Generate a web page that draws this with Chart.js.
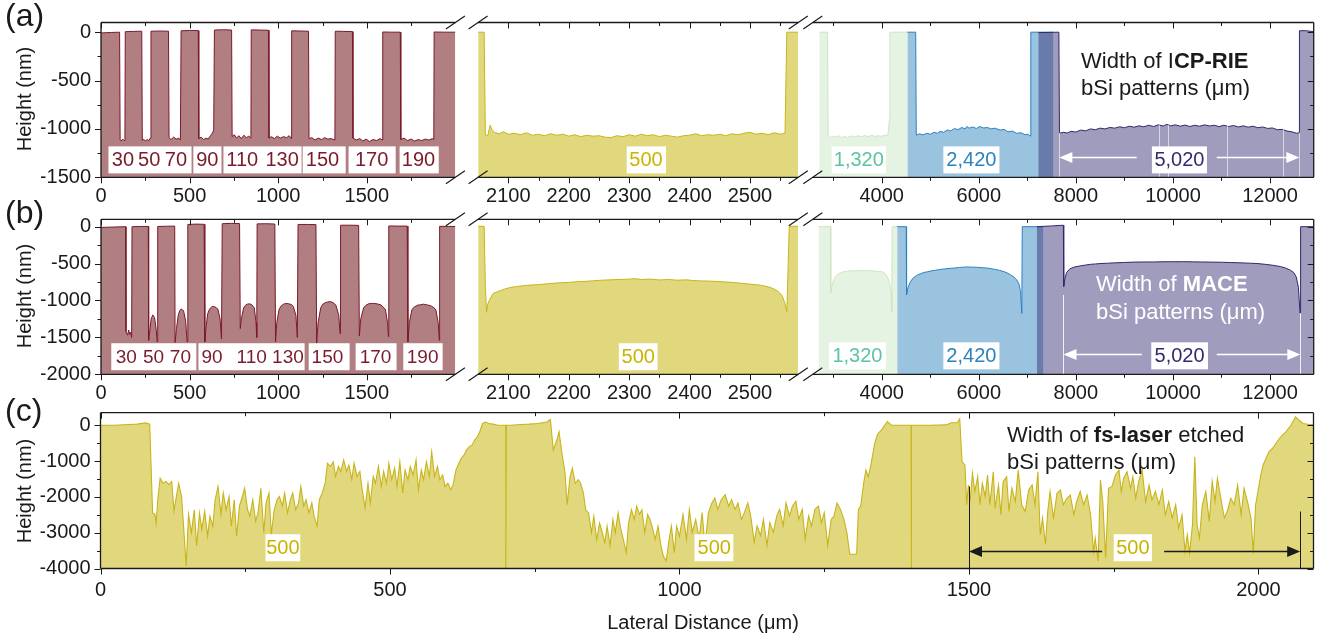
<!DOCTYPE html>
<html>
<head>
<meta charset="utf-8">
<script src="https://cdn.jsdelivr.net/npm/chart.js@4.4.0/dist/chart.umd.min.js"></script>
<style>
  body { margin: 0; background: #fff; }
  #wrap { position: relative; width: 1326px; height: 636px; overflow: hidden;
          font-family: "Liberation Sans", Arial, sans-serif; color: #1a1a1a; }
  canvas { position: absolute; left: 0; top: 0; }
  .t { position: absolute; white-space: nowrap; }
  .ylab { font-size: 20px; transform: translate(-50%, -50%) rotate(-90deg); }
  .note { font-size: 22px; line-height: 27px; }
</style>
</head>
<body>
<div id="wrap">
  <canvas id="a1" width="1326" height="636"></canvas>
  <canvas id="a2" width="1326" height="636"></canvas>
  <canvas id="a3" width="1326" height="636"></canvas>
  <canvas id="b1" width="1326" height="636"></canvas>
  <canvas id="b2" width="1326" height="636"></canvas>
  <canvas id="b3" width="1326" height="636"></canvas>
  <canvas id="c1" width="1326" height="636"></canvas>

  <div class="t" style="left:5px;top:-3px;font-size:32px">(a)</div>
  <div class="t" style="left:5px;top:194px;font-size:32px">(b)</div>
  <div class="t" style="left:5px;top:392px;font-size:32px">(c)</div>
  <div class="t ylab" style="left:24px;top:99px">Height (nm)</div>
  <div class="t ylab" style="left:24px;top:296px">Height (nm)</div>
  <div class="t ylab" style="left:24px;top:491px">Height (nm)</div>
  <div class="t" style="left:703px;top:622px;font-size:20px;transform:translate(-50%,-50%)">Lateral Distance (μm)</div>

  <div class="t note" style="left:1081px;top:47px">Width of I<b>CP-RIE</b><br>bSi patterns (μm)</div>
  <div class="t note" style="left:1096px;top:270px;color:#fff;line-height:28px">Width of <b>MACE</b><br>bSi patterns (μm)</div>
  <div class="t note" style="left:1007px;top:421px">Width of <b>fs-laser</b> etched<br>bSi patterns (μm)</div>
</div>
<script>
// ---- tick labels ----
const xTicksP1 = [0, 500, 1000, 1500];
const xTicksP2 = [2100, 2200, 2300, 2400, 2500];
const xTicksP3 = [4000, 6000, 8000, 10000, 12000];
const xTicksC = [0, 500, 1000, 1500, 2000];
const yTicksA = [0, -500, -1000, -1500];
const yTicksB = [0, -500, -1000, -1500, -2000];
const yTicksC = [0, -1000, -2000, -3000, -4000];

// ---- (a) ICP-RIE profiles [lateral µm, height nm] ----
const icpNarrow = [[0,-8],[60,-3],[105,0],[108,-1110],[114,-1125],[122,-1105],[130,-1120],[135,-1100],[137,5],[185,8],[230,10],
  [233,-1120],[240,-1105],[250,-1125],[260,-1110],[270,-1120],[278,-1095],[282,10],[330,12],[381,10],
  [384,-1090],[395,-1110],[410,-1085],[425,-1105],[438,-1095],[448,-1115],[452,14],[500,18],[549,16],
  [552,-1100],[565,-1085],[580,-1110],[592,-1095],[605,-1105],[618,-1070],[628,-1045],[636,-1010],[640,22],[690,25],[737,22],
  [740,-1080],[752,-1060],[765,-1095],[778,-1070],[792,-1100],[806,-1065],[820,-1090],[834,-1075],[846,-1095],[848,24],[895,22],[945,20],
  [948,-1095],[962,-1080],[978,-1100],[995,-1075],[1012,-1095],[1030,-1080],[1048,-1090],[1062,-1070],[1074,-1100],[1076,14],[1125,12],[1171,10],
  [1174,-1100],[1190,-1090],[1208,-1115],[1225,-1095],[1245,-1110],[1262,-1090],[1280,-1105],[1300,-1100],[1320,-1115],[1322,10],[1370,8],[1419,6],
  [1422,-1095],[1440,-1115],[1460,-1100],[1478,-1125],[1496,-1105],[1515,-1130],[1535,-1110],[1555,-1120],[1575,-1100],[1588,-1115],[1590,2],[1640,0],[1689,0],
  [1692,-1110],[1710,-1095],[1730,-1120],[1750,-1105],[1770,-1125],[1790,-1110],[1810,-1120],[1830,-1105],[1850,-1115],[1870,-1100],[1878,-1110],[1880,2],[1940,0],[2000,0]];
const icp500 = [[2050,0],[2060,0],[2062,-1060],[2066,-1070],[2070,-960],[2073,-1010],[2078,-1040],[2085,-1050],[2092,-1030],[2100,-1055],
  [2110,-1045],[2120,-1060],[2130,-1040],[2140,-1065],[2150,-1055],[2160,-1070],[2170,-1050],[2180,-1065],[2190,-1055],[2200,-1075],
  [2210,-1060],[2220,-1080],[2230,-1065],[2240,-1075],[2250,-1070],[2260,-1085],[2270,-1090],[2280,-1070],[2290,-1080],[2300,-1060],
  [2310,-1075],[2320,-1055],[2330,-1070],[2340,-1060],[2350,-1080],[2360,-1065],[2370,-1075],[2380,-1085],[2390,-1070],[2400,-1065],
  [2410,-1050],[2420,-1070],[2430,-1060],[2440,-1065],[2450,-1055],[2460,-1070],[2470,-1050],[2480,-1060],[2490,-1045],[2500,-1035],
  [2510,-1055],[2520,-1045],[2530,-1060],[2540,-1040],[2550,-1055],[2558,-1045],[2561,0],[2580,0]];
const icp1320 = [[2713,0],[2885,0],[2895,-1070],[2940,-1090],[2990,-1075],[3050,-1085],[3110,-1070],[3170,-1090],[3230,-1078],[3300,-1088],
  [3370,-1072],[3440,-1084],[3510,-1070],[3580,-1082],[3650,-1068],[3720,-1080],[3790,-1066],[3860,-1078],[3930,-1070],[4000,-1076],
  [4070,-1064],[4125,-1072],[4140,-1000],[4160,-900],[4168,0],[4528,0]];
const icp2420 = [[4528,0],[4700,0],[4712,-1065],[4780,-1050],[4850,-1062],[4928,-1045],[5000,-1055],[5080,-1035],[5150,-1045],[5202,-1025],
  [5280,-1035],[5350,-1010],[5420,-1022],[5500,-995],[5570,-1008],[5650,-985],[5720,-1000],[5753,-975],[5800,-992],[5870,-980],
  [5950,-995],[6020,-975],[6100,-990],[6180,-985],[6250,-1000],[6330,-992],[6439,-1012],[6520,-1005],[6600,-1030],[6690,-1022],
  [6782,-1045],[6870,-1040],[6950,-1060],[7020,-1055],[7060,-1075],[7072,0],[7536,0]];
const icp5020 = [[7226,-5],[7650,0],[7662,-1045],[7740,-1035],[7820,-1042],[7900,-1025],[8000,-1032],[8100,-1012],[8200,-1020],[8300,-1000],
  [8400,-1008],[8500,-992],[8600,-1000],[8700,-985],[8800,-992],[8900,-978],[9000,-988],[9100,-972],[9200,-982],[9300,-968],
  [9400,-978],[9500,-962],[9600,-975],[9700,-958],[9800,-970],[9873,-952],[9950,-968],[10050,-958],[10150,-972],[10250,-960],
  [10350,-975],[10450,-962],[10550,-972],[10650,-958],[10750,-970],[10850,-962],[10950,-976],[11050,-962],[11150,-975],[11250,-965],
  [11350,-980],[11450,-968],[11550,-982],[11650,-972],[11750,-988],[11850,-980],[11950,-995],[12050,-990],[12150,-1008],[12250,-1005],
  [12350,-1022],[12450,-1030],[12550,-1045],[12598,-1040],[12606,15],[12750,15],[12900,5]];

// ---- (b) MACE profiles ----
const maceNarrow = [[0,-10],[70,-5],[139,0],
  [141,-1420],[150,-1470],[156,-1400],[162,-1460],[168,-1430],[173,-1500],[175,0],[222,3],[267,3],
  [269,-1540],[276,-1400],[283,-1250],[292,-1195],[302,-1230],[311,-1380],[317,-1560],[320,3],[370,6],[416,8],
  [418,-1570],[426,-1380],[436,-1200],[444,-1140],[452,-1115],[460,-1125],[466,-1140],[478,-1280],[486,-1560],[490,30],[537,35],[582,32],
  [586,-1560],[592,-1380],[602,-1180],[612,-1120],[620,-1095],[630,-1080],[640,-1085],[650,-1095],[660,-1120],[672,-1250],[680,-1520],[684,40],[735,45],[782,42],
  [786,-1380],[792,-1250],[805,-1100],[815,-1065],[825,-1050],[838,-1045],[850,-1055],[865,-1100],[875,-1300],[879,-1500],[881,38],[930,40],[981,36],
  [985,-1560],[992,-1300],[1005,-1120],[1018,-1070],[1030,-1050],[1045,-1040],[1060,-1045],[1075,-1055],[1085,-1080],[1100,-1200],[1108,-1500],[1112,30],[1165,30],[1213,28],
  [1217,-1580],[1225,-1300],[1240,-1100],[1252,-1050],[1265,-1030],[1280,-1020],[1295,-1015],[1310,-1030],[1325,-1060],[1342,-1200],[1349,-1450],[1352,20],[1405,20],[1454,18],
  [1458,-1480],[1466,-1250],[1482,-1100],[1495,-1065],[1510,-1045],[1528,-1040],[1545,-1040],[1562,-1048],[1580,-1060],[1605,-1120],[1617,-1300],[1622,-1490],[1624,10],[1680,8],[1728,8],
  [1732,-1560],[1740,-1300],[1755,-1120],[1770,-1085],[1785,-1065],[1802,-1058],[1820,-1050],[1840,-1060],[1860,-1070],[1878,-1095],[1890,-1130],[1903,-1300],[1909,-1540],[1911,5],[1960,3],[2000,3]];
const mace500 = [[2050,5],[2060,5],[2062,-800],[2064,-1160],[2066,-1050],[2069,-990],[2075,-905],[2082,-880],[2089,-860],[2096,-840],
  [2103,-825],[2115,-810],[2130,-795],[2150,-785],[2170,-770],[2186,-760],[2200,-755],[2215,-745],[2230,-740],[2241,-732],
  [2255,-725],[2270,-720],[2285,-715],[2296,-712],[2310,-705],[2320,-715],[2335,-710],[2351,-722],[2365,-715],[2380,-725],
  [2395,-720],[2406,-730],[2420,-735],[2435,-738],[2450,-745],[2462,-750],[2475,-758],[2490,-770],[2505,-782],[2517,-792],
  [2530,-815],[2539,-840],[2547,-880],[2553,-930],[2558,-1040],[2561,-1150],[2563,-600],[2565,5],[2580,5]];
const mace1320 = [[2700,0],[2945,0],[2950,-900],[2975,-800],[3010,-720],[3060,-665],[3120,-635],[3200,-615],[3270,-605],[3350,-598],
  [3450,-600],[3550,-592],[3650,-598],[3750,-594],[3850,-602],[3950,-606],[4030,-615],[4080,-640],[4130,-700],[4170,-790],
  [4195,-900],[4206,-1150],[4215,0],[4318,0]];
const mace2420 = [[4318,0],[4505,0],[4512,-925],[4540,-830],[4580,-760],[4640,-700],[4720,-660],[4790,-640],[4870,-620],[4950,-610],
  [5030,-598],[5110,-590],[5200,-580],[5300,-572],[5408,-565],[5500,-560],[5600,-552],[5700,-548],[5753,-545],[5850,-548],
  [5950,-550],[6050,-555],[6165,-560],[6260,-570],[6350,-580],[6430,-592],[6500,-605],[6580,-625],[6650,-650],[6720,-680],
  [6782,-720],[6830,-780],[6860,-880],[6886,-1175],[6895,0],[7330,0]];
const mace5020 = [[7196,0],[7500,10],[7742,20],[7750,-810],[7775,-700],[7810,-620],[7878,-570],[7980,-545],[8100,-530],[8200,-520],
  [8300,-510],[8400,-505],[8496,-500],[8650,-495],[8800,-490],[9000,-485],[9183,-480],[9400,-478],[9600,-478],[9800,-475],
  [10000,-475],[10200,-474],[10400,-476],[10563,-478],[10800,-480],[11000,-482],[11200,-486],[11400,-490],[11594,-495],[11750,-500],
  [11900,-510],[12050,-522],[12212,-540],[12320,-560],[12420,-590],[12487,-620],[12540,-680],[12585,-820],[12618,-1175],[12630,0],[12900,0]];

// ---- (c) fs-laser profile ----
const laserProfile = [[0,0],[25,0],[48,20],[63,30],[78,65],[85,30],[90,-2450],[94,-2490],[96,-2740],[99,-2080],[103,-1480],[108,-1620],
  [113,-1570],[118,-1660],[123,-1570],[127,-2400],[131,-1990],[135,-1620],[140,-1990],[145,-3190],[148,-3930],[152,-2490],[157,-3000],
  [162,-2360],[166,-3370],[171,-2450],[175,-2910],[180,-2400],[185,-3100],[189,-2540],[194,-2820],[198,-2080],[203,-1710],[208,-2490],
  [212,-1890],[217,-2360],[222,-1990],[226,-2820],[231,-2080],[235,-3100],[240,-2260],[245,-1990],[249,-1760],[254,-2360],[258,-2540],
  [263,-2080],[268,-2680],[272,-2450],[277,-1760],[282,-3000],[286,-2170],[291,-1890],[295,-3050],[300,-2360],[305,-2080],[309,-1990],
  [314,-2260],[318,-1890],[323,-2450],[328,-2080],[332,-1890],[337,-2360],[342,-2170],[346,-1710],[351,-2260],[355,-2080],[360,-2450],
  [365,-2170],[369,-2540],[374,-2820],[378,-2080],[383,-1890],[388,-1620],[392,-1060],[397,-1150],[402,-1020],[406,-1430],[411,-1150],
  [415,-1290],[420,-970],[425,-1290],[429,-1110],[434,-1520],[438,-1060],[443,-1430],[448,-1290],[452,-1800],[457,-2310],[462,-1620],
  [466,-2170],[471,-1430],[475,-1620],[480,-1150],[485,-1710],[489,-1290],[494,-1620],[498,-1060],[503,-1520],[508,-1200],[512,-1710],
  [517,-1020],[522,-1890],[526,-1250],[531,-1520],[535,-1150],[540,-1390],[545,-970],[549,-1800],[554,-1250],[558,-1520],[563,-1020],
  [568,-1430],[572,-740],[577,-1430],[582,-1150],[586,-1520],[591,-1390],[595,-1710],[600,-1620],[605,-1800],[609,-1660],[614,-1250],
  [619,-1060],[623,-920],[628,-830],[632,-690],[637,-600],[642,-550],[646,-420],[651,-320],[655,-180],[660,50],[665,90],[671,50],
  [678,30],[686,0],[700,0],[700,-4000],[701,0],[709,0],[725,20],[740,30],[755,50],[771,90],[777,160],[782,-690],[788,-420],[792,-180],
  [797,-790],[802,-1290],[806,-2220],[811,-1430],[815,-1200],[820,-1620],[825,-1520],[829,-1620],[834,-1890],[838,-2360],[843,-2450],
  [848,-3000],[852,-2540],[857,-3190],[862,-2730],[866,-2960],[871,-3280],[875,-2820],[880,-3370],[885,-2630],[889,-3000],[894,-2450],
  [898,-2860],[903,-3190],[908,-3560],[912,-2730],[917,-2360],[922,-2630],[926,-2260],[931,-2490],[935,-2360],[940,-3000],[945,-2490],
  [949,-2630],[954,-2910],[958,-3190],[963,-2820],[968,-3370],[972,-3650],[977,-3790],[982,-3190],[986,-2820],[991,-3560],[995,-2820],
  [1000,-3100],[1006,-2490],[1012,-3180],[1017,-2350],[1022,-2990],[1028,-2630],[1034,-3180],[1039,-2440],[1044,-3360],[1050,-2440],
  [1056,-2170],[1061,-2030],[1066,-2350],[1072,-2080],[1079,-1940],[1085,-2260],[1090,-2080],[1096,-2350],[1101,-2170],[1107,-2630],
  [1112,-2440],[1118,-2170],[1123,-2530],[1129,-3270],[1134,-2810],[1140,-3080],[1145,-2630],[1151,-3360],[1156,-2720],[1162,-2990],
  [1168,-2530],[1173,-2350],[1179,-2810],[1184,-2170],[1190,-2530],[1195,-2260],[1201,-2120],[1206,-2630],[1212,-2350],[1217,-3180],
  [1223,-2530],[1228,-2810],[1234,-2350],[1240,-2260],[1245,-2720],[1250,-2440],[1256,-3360],[1262,-2630],[1267,-2530],[1272,-2170],
  [1278,-2350],[1284,-2630],[1289,-2990],[1294,-3590],[1300,-3610],[1306,-3590],[1309,-2350],[1313,-2260],[1318,-1620],[1322,-1250],
  [1326,-1440],[1331,-1070],[1337,-520],[1342,-250],[1350,-110],[1359,100],[1366,0],[1400,0],[1400,-4000],[1401,0],[1432,0],[1461,10],
  [1469,70],[1480,70],[1484,180],[1488,-1020],[1493,-1110],[1496,-2220],[1499,-1670],[1502,-2130],[1506,-1340],[1510,-1850],[1515,-1440],
  [1519,-2220],[1523,-1620],[1528,-1990],[1532,-1390],[1536,-2220],[1542,-1300],[1545,-2320],[1551,-1670],[1555,-2500],[1559,-1570],
  [1565,-1440],[1569,-2410],[1574,-1760],[1580,-2130],[1585,-1250],[1591,-2220],[1597,-2410],[1603,-1810],[1609,-1670],[1614,-2220],
  [1619,-1300],[1623,-3060],[1627,-2590],[1632,-3330],[1636,-2410],[1640,-1850],[1646,-2590],[1652,-1900],[1658,-1810],[1663,-2220],
  [1669,-2040],[1675,-1950],[1681,-2500],[1686,-2130],[1692,-1850],[1698,-2220],[1704,-1950],[1710,-2500],[1715,-3520],[1718,-3150],
  [1723,-3800],[1727,-1530],[1731,-2130],[1736,-3700],[1741,-1760],[1747,-1710],[1753,-1390],[1759,-1250],[1763,-1850],[1767,-1480],
  [1773,-1300],[1779,-1760],[1783,-1440],[1788,-2040],[1793,-1570],[1799,-1250],[1805,-2130],[1811,-1670],[1816,-2080],[1822,-1850],
  [1828,-2220],[1834,-1810],[1839,-2500],[1845,-2130],[1851,-2590],[1857,-2220],[1862,-2870],[1868,-2500],[1873,-3520],[1877,-3060],
  [1881,-3570],[1886,-2780],[1890,-880],[1894,-2780],[1898,-3150],[1903,-2220],[1909,-1850],[1915,-2690],[1920,-1570],[1925,-2130],
  [1929,-1480],[1935,-2040],[1941,-2590],[1946,-2410],[1952,-2040],[1958,-2220],[1964,-1670],[1970,-2500],[1975,-1760],[1981,-2130],
  [1987,-2590],[1991,-3570],[1995,-2220],[2000,-1760],[2004,-1390],[2008,-1110],[2013,-930],[2018,-740],[2024,-650],[2030,-510],
  [2036,-370],[2041,-280],[2047,-190],[2056,0],[2064,230],[2070,140],[2077,50],[2088,20],[2095,20]];

// ---- width labels (text, centre on the lateral axis) ----
const narrowWidths = ['30', '50', '70', '90', '110', '130', '150', '170', '190'];
const icpWidthX = [124, 272, 423, 600, 797, 1022, 1250, 1527, 1792];
const maceWidthX = [143, 296, 448, 627, 850, 1055, 1278, 1549, 1815];
const icpWidthBoxes = [[42, 511], [521, 680], [691, 1132], [1138, 1381], [1397, 1663], [1685, 1906]];
const maceWidthBoxes = [[58, 538], [550, 1149], [1172, 1403], [1437, 1668], [1706, 1928]];
const wideWidths = ['1,320', '2,420', '5,020'];
const icpWideX = [3528, 5847, 10134];
const maceWideX = [3500, 5847, 10137];
const icpWideBoxes = [[2969, 4087], [5270, 6425], [9567, 10701]];
const maceWideBoxes = [[2913, 4087], [5270, 6425], [9553, 10722]];
const laserWidthX = [315, 1060, 1783];
const laserWidthBoxes = [[285, 345], [1026, 1093], [1750, 1816]];
// dimension arrows: [from, to, height, gap start, gap end]
const icpArrow = [7660, 12604, -1287, 9253, 10902];
const maceArrow = [7745, 12625, -1725, 9356, 10902];
const laserArrow = [1500, 2072, -3500, 1730, 1837];
// guide lines: [x, top height]
const icpGuides = [[7660, -1040], [9716, -960], [9900, -960], [11120, -960], [12274, -1000], [12604, -1040]];
const maceGuides = [[7745, -925], [12625, -1170]];
const laserGuides = [[1500, -1710], [2072, -2410]];

const W = 1326, H = 636;
const FONT = '"Liberation Sans", Arial, sans-serif';
const INK = '#1a1a1a';
const MAROON = '#7a1a2a', YELLOW = '#c9b400', GREEN = '#5cc4a0', BLUE = '#2a82c0', PURPLE = '#35296e';

const rowA = { top: 22.5, bottom: 177.3, y: [-1500, 100], ticks: yTicksA, major: 500, minor: 250 };
const rowB = { top: 219.3, bottom: 374.3, y: [-2000, 100], ticks: yTicksB, major: 500, minor: 250 };
const rowC = { top: 412.7, bottom: 568.5, y: [-4000, 350], ticks: yTicksC, major: 1000, minor: 500 };
const colP1 = { left: 101, right: 455.4, x: [0, 2000], ticks: xTicksP1, major: 500, minor: 250 };
const colP2 = { left: 478.1, right: 798.3, x: [2050, 2580], ticks: xTicksP2, major: 100, minor: 50 };
const colP3 = { left: 812.8, right: 1313.7, x: [2580, 12900], ticks: xTicksP3, major: 2000, minor: 1000 };
const colC = { left: 100.5, right: 1313.5, x: [0, 2095], ticks: xTicksC, major: 500, minor: 250 };

function series(points, line, fill) {
  return {
    data: points.map(([x, y]) => ({ x, y })),
    borderColor: line, backgroundColor: fill, borderWidth: 1,
    pointRadius: 0, tension: 0, fill: 'start'
  };
}

function textBox(ctx, xs, ys, x0, x1, yv, h) {
  const p0 = xs.getPixelForValue(x0), p1 = xs.getPixelForValue(x1);
  const py = ys.getPixelForValue(yv);
  ctx.fillStyle = '#fff';
  ctx.fillRect(p0, py - h / 2, p1 - p0, h);
}

function labels(ctx, xs, ys, texts, xsv, yv, color, size) {
  ctx.fillStyle = color;
  ctx.font = size + 'px ' + FONT;
  ctx.textAlign = 'center';
  ctx.textBaseline = 'middle';
  texts.forEach((t, i) => ctx.fillText(t, xs.getPixelForValue(xsv[i]), ys.getPixelForValue(yv) + 1));
}

function guides(ctx, xs, ys, list, color) {
  ctx.strokeStyle = color;
  ctx.lineWidth = 1;
  ctx.beginPath();
  list.forEach(([x, top]) => {
    const px = Math.round(xs.getPixelForValue(x)) + 0.5;
    ctx.moveTo(px, ys.getPixelForValue(top));
    ctx.lineTo(px, ys.bottom);
  });
  ctx.stroke();
}

function arrow(ctx, xs, ys, a, color) {
  const [x0, x1, yv, g0, g1] = a;
  const p0 = xs.getPixelForValue(x0), p1 = xs.getPixelForValue(x1);
  const q0 = xs.getPixelForValue(g0), q1 = xs.getPixelForValue(g1);
  const py = Math.round(ys.getPixelForValue(yv)) + 0.5;
  ctx.strokeStyle = color;
  ctx.fillStyle = color;
  ctx.lineWidth = 1.5;
  ctx.beginPath();
  ctx.moveTo(p0 + 10, py); ctx.lineTo(q0, py);
  ctx.moveTo(q1, py); ctx.lineTo(p1 - 10, py);
  ctx.stroke();
  ctx.beginPath();
  ctx.moveTo(p0, py); ctx.lineTo(p0 + 13, py - 5.5); ctx.lineTo(p0 + 13, py + 5.5); ctx.closePath();
  ctx.moveTo(p1, py); ctx.lineTo(p1 - 13, py - 5.5); ctx.lineTo(p1 - 13, py + 5.5); ctx.closePath();
  ctx.fill();
}

function decor(row, col, o) {
  return {
    id: 'decor',
    afterDatasetsDraw(chart) {
      const { ctx, chartArea: a } = chart;
      const xs = chart.scales.x, ys = chart.scales.y;
      ctx.save();
      if (o.extra) o.extra(ctx, xs, ys);

      ctx.strokeStyle = INK;
      ctx.lineWidth = 1.3;
      ctx.beginPath();
      ctx.moveTo(a.left, a.top); ctx.lineTo(a.right, a.top);
      ctx.moveTo(a.left, a.bottom); ctx.lineTo(a.right, a.bottom);
      if (o.left) { ctx.moveTo(a.left, a.top); ctx.lineTo(a.left, a.bottom); }
      if (o.right) { ctx.moveTo(a.right, a.top); ctx.lineTo(a.right, a.bottom); }
      ctx.stroke();

      ctx.lineWidth = 1;
      ctx.beginPath();
      for (let v = Math.ceil(col.x[0] / col.minor) * col.minor; v < col.x[1]; v += col.minor) {
        if (v === col.x[0] && !o.left) continue;
        const px = Math.round(xs.getPixelForValue(v)) + 0.5;
        const len = v % col.major === 0 ? 6 : 3.5;
        ctx.moveTo(px, a.bottom); ctx.lineTo(px, a.bottom + len);
        ctx.moveTo(px, a.top); ctx.lineTo(px, a.top + len);
      }
      for (let v = row.y[0]; v <= 0; v += row.minor) {
        const py = Math.round(ys.getPixelForValue(v)) + 0.5;
        const len = v % row.major === 0 ? 6 : 3.5;
        if (o.left) { ctx.moveTo(a.left, py); ctx.lineTo(a.left - len, py); }
        if (o.right) { ctx.moveTo(a.right, py); ctx.lineTo(a.right - len, py); }
      }
      ctx.stroke();

      ctx.lineWidth = 1.2;
      ctx.beginPath();
      const brk = x => [a.top, a.bottom].forEach(y => { ctx.moveTo(x - 9.5, y + 6.5); ctx.lineTo(x + 9.5, y - 6.5); });
      if (o.breakL) brk(a.left);
      if (o.breakR) brk(a.right);
      ctx.stroke();
      ctx.restore();
    }
  };
}

function panel(id, row, col, datasets, o) {
  const yW = o.yLabels ? 60 : 0;
  const xH = 30;
  return new Chart(document.getElementById(id), {
    type: 'line',
    data: { datasets },
    options: {
      responsive: false,
      animation: false,
      devicePixelRatio: 1,
      layout: { padding: { left: col.left - yW, top: row.top, right: W - col.right, bottom: H - row.bottom - xH } },
      plugins: { legend: { display: false }, tooltip: { enabled: false } },
      scales: {
        x: {
          type: 'linear', min: col.x[0], max: col.x[1],
          grid: { display: false, drawTicks: false }, border: { display: false },
          afterBuildTicks: s => { s.ticks = col.ticks.map(v => ({ value: v })); },
          afterFit: s => { s.height = xH; },
          ticks: { padding: o.xPad, color: INK, font: { family: FONT, size: 20 }, maxRotation: 0, autoSkip: false, callback: v => String(v) }
        },
        y: {
          type: 'linear', min: row.y[0], max: row.y[1],
          grid: { display: false, drawTicks: false }, border: { display: false },
          afterBuildTicks: s => { s.ticks = row.ticks.map(v => ({ value: v })); },
          afterFit: s => { s.width = yW; },
          ticks: { display: !!o.yLabels, padding: 10, color: INK, font: { family: FONT, size: 20 }, callback: v => String(v) }
        }
      }
    },
    plugins: [decor(row, col, o)]
  });
}

const maroonLine = MAROON, maroonFill = 'rgba(125,40,45,0.6)';
const yellowLine = '#c8b41a', yellowFill = 'rgba(205,190,40,0.6)';
const greenLine = '#cde4c2', greenFill = 'rgba(150,210,140,0.25)';
const blueLine = '#2a82c0', blueFill = 'rgba(53,135,191,0.5)';
const purpleLine = '#33286a', purpleFill = 'rgba(44,35,109,0.45)';

// row (a)
panel('a1', rowA, colP1, [series(icpNarrow, maroonLine, maroonFill)], {
  yLabels: true, left: true, breakR: true, xPad: 7,
  extra: (ctx, xs, ys) => {
    icpWidthBoxes.forEach(([x0, x1]) => textBox(ctx, xs, ys, x0, x1, -1320, 27));
    labels(ctx, xs, ys, narrowWidths, icpWidthX, -1320, MAROON, 20);
  }
});
panel('a2', rowA, colP2, [series(icp500, yellowLine, yellowFill)], {
  breakL: true, breakR: true, xPad: 7,
  extra: (ctx, xs, ys) => {
    textBox(ctx, xs, ys, 2296, 2361, -1320, 27);
    labels(ctx, xs, ys, ['500'], [2328], -1320, YELLOW, 20);
  }
});
panel('a3', rowA, colP3, [
  series(icp5020, purpleLine, purpleFill),
  series(icp2420, blueLine, blueFill),
  series(icp1320, greenLine, greenFill)
], {
  right: true, breakL: true, xPad: 7,
  extra: (ctx, xs, ys) => {
    guides(ctx, xs, ys, icpGuides, 'rgba(255,255,255,0.6)');
    arrow(ctx, xs, ys, icpArrow, '#fff');
    icpWideBoxes.forEach(([x0, x1]) => textBox(ctx, xs, ys, x0, x1, -1320, 27));
    [GREEN, BLUE, PURPLE].forEach((c, i) => labels(ctx, xs, ys, [wideWidths[i]], [icpWideX[i]], -1320, c, 20));
  }
});

// row (b)
panel('b1', rowB, colP1, [series(maceNarrow, maroonLine, maroonFill)], {
  yLabels: true, left: true, breakR: true, xPad: 7,
  extra: (ctx, xs, ys) => {
    maceWidthBoxes.forEach(([x0, x1]) => textBox(ctx, xs, ys, x0, x1, -1762, 27));
    labels(ctx, xs, ys, narrowWidths, maceWidthX, -1762, MAROON, 19);
  }
});
panel('b2', rowB, colP2, [series(mace500, yellowLine, yellowFill)], {
  breakL: true, breakR: true, xPad: 7,
  extra: (ctx, xs, ys) => {
    textBox(ctx, xs, ys, 2283, 2347, -1762, 27);
    labels(ctx, xs, ys, ['500'], [2315], -1762, YELLOW, 20);
  }
});
panel('b3', rowB, colP3, [
  series(mace5020, purpleLine, purpleFill),
  series(mace2420, blueLine, blueFill),
  series(mace1320, greenLine, greenFill)
], {
  right: true, breakL: true, xPad: 7,
  extra: (ctx, xs, ys) => {
    guides(ctx, xs, ys, maceGuides, 'rgba(255,255,255,0.85)');
    arrow(ctx, xs, ys, maceArrow, '#fff');
    maceWideBoxes.forEach(([x0, x1]) => textBox(ctx, xs, ys, x0, x1, -1750, 27));
    [GREEN, BLUE, PURPLE].forEach((c, i) => labels(ctx, xs, ys, [wideWidths[i]], [maceWideX[i]], -1750, c, 20));
  }
});

// row (c)
const laserSeries = series(laserProfile, yellowLine, yellowFill);
laserSeries.borderWidth = 1.1;
panel('c1', rowC, colC, [laserSeries], {
  yLabels: true, left: true, right: true, xPad: 10,
  extra: (ctx, xs, ys) => {
    guides(ctx, xs, ys, laserGuides, INK);
    arrow(ctx, xs, ys, laserArrow, INK);
    laserWidthBoxes.forEach(([x0, x1]) => textBox(ctx, xs, ys, x0, x1, -3420, 27));
    labels(ctx, xs, ys, ['500', '500', '500'], laserWidthX, -3420, YELLOW, 20);
  }
});
</script>
</body>
</html>
